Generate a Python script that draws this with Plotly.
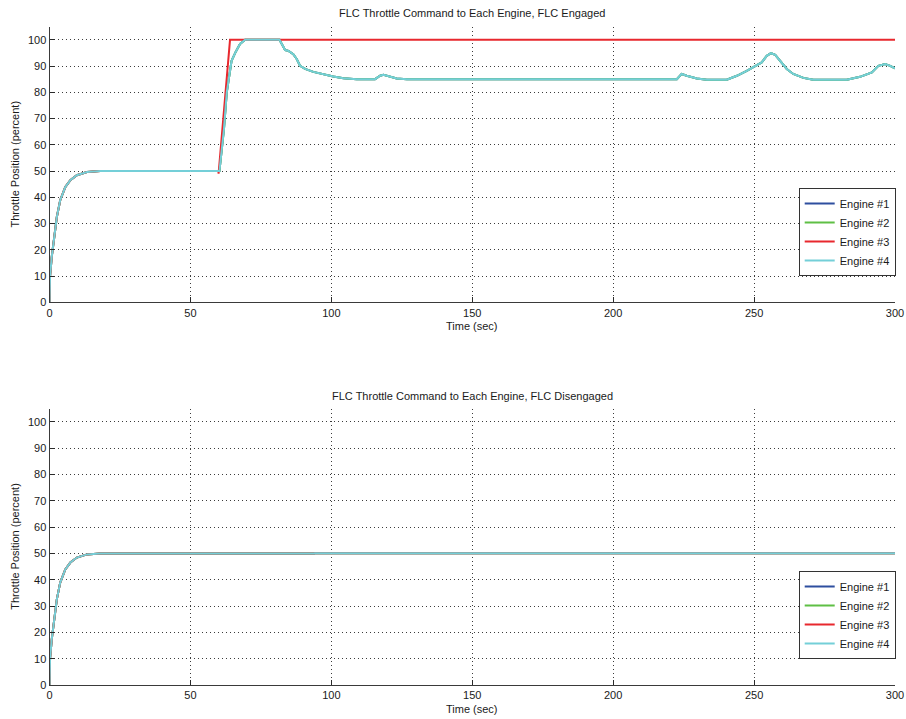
import plotly.graph_objects as go

# ---- data -----------------------------------------------------------------
# Commanded throttle (engine #3) with the FLC engaged
t_cmd = [0, 0.2, 0.8, 1.8, 2.6, 3.8, 5.6, 7.4, 9.7, 13.3, 18, 59.9, 60.0, 64.05, 300]
v_cmd = [0, 10, 17.3, 26.2, 32.5, 38.9, 43.9, 46.5, 48.4, 49.6, 50, 50, 49, 100, 100]

# Engines #1, #2 and #4 throttle with the FLC engaged
t_e4 = [0, 0.2, 0.8, 1.8, 2.6, 3.8, 5.6, 7.4, 9.7, 13.3, 18, 60.3, 61.9, 62.9, 64.6,
        66.1, 67.6, 69.4, 81.6, 83.6, 84.8, 86.5, 87.7, 88.9, 90.7, 93.6, 97.2, 100.7,
        104.3, 109, 115.5, 117.3, 118.5, 120.8, 123.2, 126.8, 222.6, 224.3, 226.1,
        229.7, 233.2, 240.3, 243.9, 247.4, 250.4, 252.7, 254.5, 256, 257.5, 259.2,
        261.6, 263.9, 267.5, 271, 282.9, 287.6, 291.8, 294.1, 296.5, 298.3, 300]
v_e4 = [0, 10, 17.3, 26.2, 32.5, 38.9, 43.9, 46.5, 48.4, 49.6, 50, 50, 66, 80, 92,
        95.5, 98.4, 100, 100, 96.1, 95.8, 94.5, 92.7, 90.1, 88.9, 87.8, 86.9, 86,
        85.4, 85, 85, 86.3, 86.7, 85.9, 85.3, 85, 85, 87, 86.3,
        85.3, 84.8, 84.8, 86.3, 88.2, 89.9, 91.4, 93.9, 94.9, 94.3, 92,
        88.9, 87, 85.5, 84.8, 84.8, 85.9, 87.6, 90.1, 90.8, 90.1, 89.1]

# All engines with the FLC disengaged
t_off = [0, 0.2, 0.8, 1.8, 2.6, 3.8, 5.6, 7.4, 9.7, 13.3, 18, 94, 94.1, 300]
v_off = [0, 10, 17.3, 26.2, 32.5, 38.9, 43.9, 46.5, 48.4, 49.6, 49.9, 49.9, 50, 50]

engine_names = ["Engine #1", "Engine #2", "Engine #3", "Engine #4"]
engine_colors = ["#2e4f9f", "#5fbf45", "#e8282e", "#74cfd8"]

x_ticks = [0, 50, 100, 150, 200, 250, 300]
y_ticks = [0, 10, 20, 30, 40, 50, 60, 70, 80, 90, 100]

title_top = "FLC Throttle Command to Each Engine, FLC Engaged"
title_bottom = "FLC Throttle Command to Each Engine, FLC Disengaged"
x_title = "Time (sec)"
y_title = "Throttle Position (percent)"

# ---- figure ---------------------------------------------------------------
W, H = 906, 719
FONT = "Liberation Sans, Arial, sans-serif"
TXT = "#1a1a1a"

fig = go.Figure()

top_series = [(t_e4, v_e4), (t_e4, v_e4), (t_cmd, v_cmd), (t_e4, v_e4)]
bottom_series = [(t_off, v_off)] * 4

for (tx, vy), name, col in zip(top_series, engine_names, engine_colors):
    fig.add_trace(go.Scatter(x=tx, y=vy, mode="lines", name=name,
                             line=dict(color=col, width=2),
                             xaxis="x", yaxis="y", legend="legend"))
for (tx, vy), name, col in zip(bottom_series, engine_names, engine_colors):
    fig.add_trace(go.Scatter(x=tx, y=vy, mode="lines", name=name,
                             line=dict(color=col, width=2),
                             xaxis="x2", yaxis="y2", legend="legend2"))


def px_x(p):
    return p / W


def px_y(p):
    return 1 - p / H


x_dom = [px_x(49.5), px_x(895)]
top_dom = [px_y(302.3), px_y(26.7)]
bot_dom = [px_y(685), px_y(408.5)]

common = dict(showline=True, linecolor="#3a3a3a", linewidth=1,
              ticks="inside", ticklen=5, tickcolor="#2a2a2a", tickwidth=1,
              showgrid=True, gridcolor="#3c3c3c", gridwidth=1, griddash="1px,3px",
              zeroline=False, automargin=False, fixedrange=True,
              tickfont=dict(family=FONT, size=11, color=TXT))

legend_style = dict(xanchor="right", yanchor="bottom",
                    bgcolor="white", bordercolor="#333333", borderwidth=1,
                    font=dict(family=FONT, size=11, color=TXT), tracegroupgap=0)

fig.update_layout(
    width=W, height=H, autosize=False,
    margin=dict(l=0, r=0, t=0, b=0),
    paper_bgcolor="white", plot_bgcolor="white",
    font=dict(family=FONT, size=11, color=TXT),
    xaxis=dict(common, domain=x_dom, range=[0, 300], tickvals=x_ticks, anchor="y"),
    yaxis=dict(common, domain=top_dom, range=[0, 105], tickvals=y_ticks, anchor="x"),
    xaxis2=dict(common, domain=x_dom, range=[0, 300], tickvals=x_ticks, anchor="y2"),
    yaxis2=dict(common, domain=bot_dom, range=[0, 105], tickvals=y_ticks, anchor="x2"),
    legend=dict(legend_style, x=px_x(895.7), y=px_y(276)),
    legend2=dict(legend_style, x=px_x(895.7), y=px_y(659)),
    showlegend=True,
)

ann_font = dict(family=FONT, size=11, color=TXT)
x_mid = (x_dom[0] + x_dom[1]) / 2
annotations = [
    dict(text=title_top, x=x_mid, y=px_y(13)),
    dict(text=title_bottom, x=x_mid, y=px_y(396)),
    dict(text=x_title, x=x_mid, y=px_y(326)),
    dict(text=x_title, x=x_mid, y=px_y(709)),
    dict(text=y_title, x=px_x(15), y=px_y(164.5), textangle=-90),
    dict(text=y_title, x=px_x(15), y=px_y(546.75), textangle=-90),
]
for a in annotations:
    fig.add_annotation(xref="paper", yref="paper", showarrow=False,
                       xanchor="center", yanchor="middle", font=ann_font, **a)

fig.write_html("out.html")
